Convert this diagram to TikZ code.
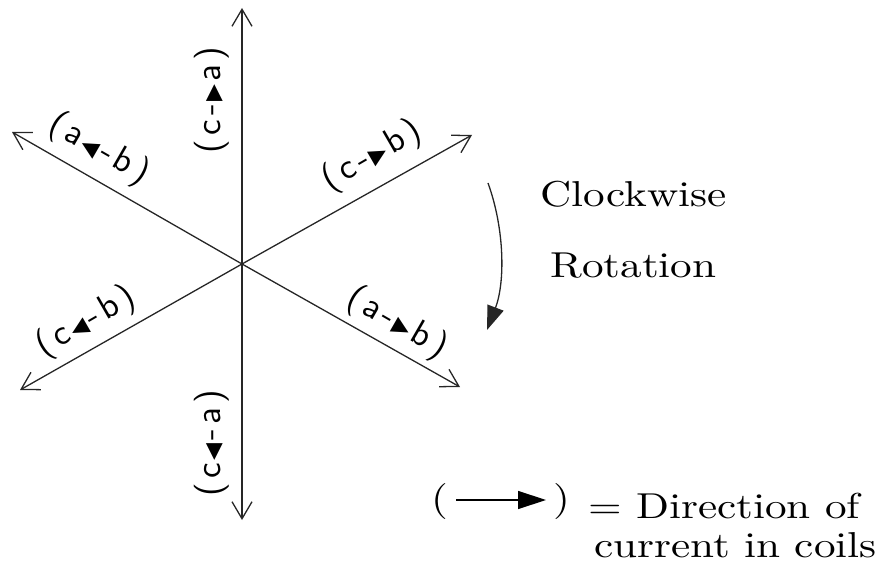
\documentclass[tikz,border=0pt]{standalone}
\usepackage{fontspec}
\usetikzlibrary{arrows.meta}
\newfontfamily\txtf{lmroman10-regular.otf}[FakeStretch=1.2]
\newfontfamily\labf{lmsans10-regular.otf}[LetterSpace=12]
\newfontfamily\symf{DejaVu Sans}
\newcommand\trR{\kern3pt{\symf\fontsize{22}{22}\selectfont ▶}\kern3pt}
\newcommand\trL{\kern3pt{\symf\fontsize{22}{22}\selectfont ◀}\kern3pt}
\begin{document}
\begin{tikzpicture}[x=1pt,y=-1pt,
  axis/.style={line width=1.3pt, draw=black!85,
    {Straight Barb[length=17pt,width=20pt]}-{Straight Barb[length=17pt,width=20pt]}},
  lab/.style={font=\labf\fontsize{35}{35}\selectfont, inner sep=0pt},
  big/.style={font=\txtf\fontsize{36}{40}\selectfont, inner sep=0pt}]
\useasboundingbox (0,0) rectangle (879,564);
\coordinate (O) at (242,264);
\coordinate (T) at (242,8);
\coordinate (B) at (242,520);
\coordinate (UL) at (12,132);
\coordinate (LR) at (460,387);
\coordinate (UR) at (472,135);
\coordinate (LL) at (20,390);
\draw[axis] (B) -- (O) -- (T);
\draw[axis] (UL) -- (O) -- (LR);
\draw[axis] (LL) -- (O) -- (UR);
\node[lab, rotate=-30] (lab1) at (99,149) {(a\trL-b)};
\node[lab, rotate=90] (lab2) at (212,100) {(c-\trR a)};
\node[lab, rotate=30] (lab3) at (372,156) {(c-\trR b)};
\node[lab, rotate=-30] (lab4) at (397,323) {(a-\trR b)};
\node[lab, rotate=30] (lab5) at (86,322) {(c\trL-b)};
\node[lab, rotate=90] (lab6) at (212,443) {(c\trL-a)};
\coordinate (cs) at (488,183);
\coordinate (ce) at (487,330);
\draw[line width=1.3pt, draw=black!85, -{Triangle[length=24pt,width=17pt]}] (cs) .. controls (505,230) and (505,283) .. (ce);
\node[big, anchor=base west] (cw) at (540,207) {Clockwise};
\node[big, anchor=base west] (rot) at (550,278) {Rotation};
\node[big, anchor=base] (lp) at (440,510) {(};
\node[big, anchor=base] (rp) at (562,510) {)};
\coordinate (as) at (456,500);
\coordinate (ae) at (546,500);
\draw[line width=1.3pt, -{Triangle[length=28pt,width=18pt]}] (as) -- (ae);
\node[big, anchor=base west] (dir) at (588,518) {= Direction of};
\node[big, anchor=base east] (cur) at (877,557) {current in coils};
\end{tikzpicture}
\end{document}
